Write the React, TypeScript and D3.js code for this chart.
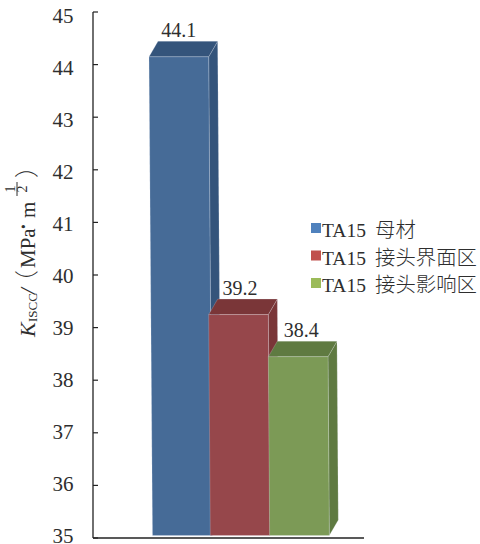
import React from "react";
import * as d3 from "d3";

const categories = ["TA15 母材", "TA15 接头界面区", "TA15 接头影响区"];
const values = [44.1, 39.2, 38.4];
const tickValues = [35, 36, 37, 38, 39, 40, 41, 42, 43, 44, 45];
const frontColors = ["#466b97", "#96474b", "#7c9a56"];
const shadeColors = ["#34547b", "#7a3638", "#5f7a41"];
const legendColors = ["#4f81bd", "#c0504d", "#9bbb59"];

const W = 480;
const H = 544;
const SERIF = "'Times New Roman', 'Liberation Serif', serif";
const CJK = "'Noto Sans CJK SC', sans-serif";
const INK = "#2e2e2e";

const axisX = 93;
const depthX = 9;
const depthY = 15.5;
const lean = 0.0073; // the columns lean slightly with height

const y = d3.scaleLinear().domain([35, 45]).range([538, 12]);
const barY = d3.scaleLinear().domain([35, 45]).range([535.5, 9.5]);
const tickLabelY = d3.scaleLinear().domain([35, 45]).range([542.5, 23]);
const x = d3.scaleBand<string>().domain(categories).range([149, 328]).padding(0);

const poly = (pts: [number, number][]) => d3.line()(pts) + "Z";

function Bar({ i }: { i: number }) {
  const c = categories[i];
  const left = x(c)!;
  const right = left + x.bandwidth();
  const top = barY(values[i]);
  const base = barY(35);
  const off = (base - top) * lean;
  const edge = "rgba(235,240,250,0.35)";
  return (
    <g>
      <path
        d={poly([
          [right, top],
          [right + depthX, top - depthY],
          [right + off + depthX, base - depthY],
          [right + off, base],
        ])}
        fill={shadeColors[i]}
        stroke={edge}
        strokeWidth={0.6}
      />
      <path
        d={poly([
          [left, top],
          [left + depthX, top - depthY],
          [right + depthX, top - depthY],
          [right, top],
        ])}
        fill={shadeColors[i]}
        stroke={edge}
        strokeWidth={0.6}
      />
      <path
        d={poly([
          [left, top],
          [right, top],
          [right + off, base],
          [left + off, base],
        ])}
        fill={frontColors[i]}
        stroke={edge}
        strokeWidth={0.6}
      />
    </g>
  );
}

export default function App() {
  return (
    <svg
      width={W}
      height={H}
      viewBox={`0 0 ${W} ${H}`}
      style={{ position: "fixed", left: 0, top: 0, background: "#fff" }}
    >
      {tickValues.map((t) => (
        <g key={t}>
          <line x1={axisX} x2={98} y1={y(t)} y2={y(t)} stroke="#222" strokeWidth={1.2} />
          <text
            x={73.5}
            y={tickLabelY(t)}
            textAnchor="end"
            fontFamily={SERIF}
            fontSize={21}
            fill={INK}
          >
            {t}
          </text>
        </g>
      ))}
      {[0, 1, 2].map((i) => (
        <Bar key={i} i={i} />
      ))}
      <line x1={axisX} x2={axisX} y1={y(45)} y2={y(35)} stroke="#222" strokeWidth={1.3} />
      <line x1={axisX} x2={364} y1={538} y2={538} stroke="#222" strokeWidth={1.5} />

      {values.map((v, i) => {
        const c = categories[i];
        return (
          <text
            key={c}
            x={x(c)! + x.bandwidth() / 2 + i * 1.5}
            y={barY(v) - 20}
            textAnchor="middle"
            fontFamily={SERIF}
            fontSize={20}
            fill={INK}
          >
            {v}
          </text>
        );
      })}

      {categories.map((c, i) => {
        const [alloy, zone] = c.split(" ");
        const lineY = 237 + i * 27.5;
        return (
          <g key={c}>
            <rect x={311} y={lineY - 14} width={10} height={10} fill={legendColors[i]} />
            <text x={322} y={lineY} fontFamily={SERIF} fontSize={19.5} fill={INK}>
              {alloy}
            </text>
            <text x={375} y={lineY} fontFamily={CJK} fontSize={20.4} fontWeight={300} fill={INK}>
              {zone}
            </text>
          </g>
        );
      })}

      <g transform="translate(35,337) rotate(-90)" fontFamily={SERIF} fill={INK}>
        <text x={0} y={0} fontSize={22} fontStyle="italic">
          K
        </text>
        <text x={15} y={2} fontSize={13}>
          ISCC
        </text>
        <text x={43} y={0} fontSize={21} fontStyle="italic">
          /
        </text>
        <text x={43} y={0} fontSize={24} fontFamily={CJK} fontWeight={300}>
          （
        </text>
        <text x={69} y={0} fontSize={21}>
          MPa
        </text>
        <text x={107} y={-5} fontSize={20} fontWeight={700}>
          ·
        </text>
        <text x={119} y={0} fontSize={21}>
          m
        </text>
        <text x={148} y={-20} fontSize={14} textAnchor="middle">
          1
        </text>
        <line x1={141} x2={155} y1={-18} y2={-18} stroke={INK} strokeWidth={1} />
        <text x={148} y={-8} fontSize={14} textAnchor="middle">
          2
        </text>
        <text x={159} y={0} fontSize={24} fontFamily={CJK} fontWeight={300}>
          ）
        </text>
      </g>
    </svg>
  );
}
